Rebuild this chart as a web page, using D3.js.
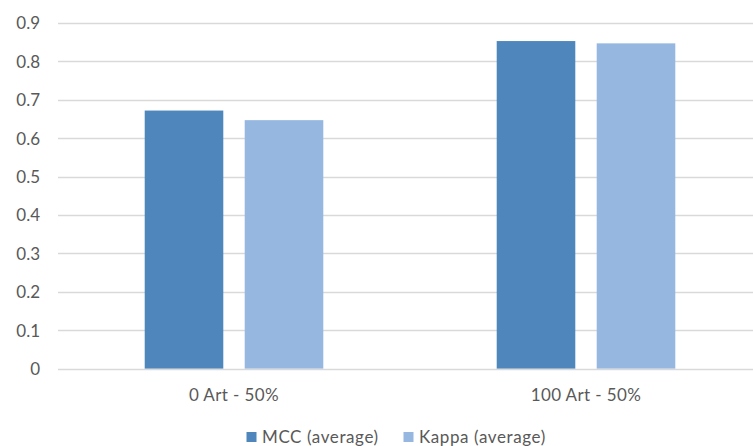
<!DOCTYPE html>
<html>
<head>
<meta charset="utf-8">
<script src="https://cdn.jsdelivr.net/npm/d3@7"></script>
<style>
  html, body { margin: 0; padding: 0; background: #fff; }
  svg { display: block; }
  text { font-family: Lato, "Open Sans", sans-serif; fill: #595959; }
</style>
</head>
<body>
<svg id="chart" width="753" height="446"></svg>
<script>
// Grouped bar chart: average MCC and Kappa per scenario
const categories = ["0 Art - 50%", "100 Art - 50%"];
const seriesNames = ["MCC (average)", "Kappa (average)"];
const mccValues = [0.672, 0.853];
const kappaValues = [0.647, 0.847];
const yTicks = [0, 0.1, 0.2, 0.3, 0.4, 0.5, 0.6, 0.7, 0.8, 0.9];
const seriesColors = ["#4f87bd", "#96b8e0"];

const seriesValues = [mccValues, kappaValues];
const rows = categories.map((c, i) => ({
  category: c,
  values: seriesNames.map((s, j) => ({ series: s, value: seriesValues[j][i], color: seriesColors[j] }))
}));

const svg = d3.select("#chart");
const plot = { left: 58, right: 762, top: 23, bottom: 368.6 };

const y = d3.scaleLinear().domain([0, 0.9]).range([plot.bottom, plot.top]);
const x0 = d3.scaleBand().domain(categories).range([plot.left, plot.right]).padding(0);
const x1 = d3.scaleBand().domain(seriesNames).range([0, x0.bandwidth()])
  .paddingInner(0.214).paddingOuter(0.867);

// horizontal gridlines
svg.append("g")
  .selectAll("line")
  .data(yTicks)
  .join("line")
  .attr("x1", plot.left).attr("x2", plot.right)
  .attr("y1", d => Math.round(y(d)) + 0.5).attr("y2", d => Math.round(y(d)) + 0.5)
  .attr("stroke", "#d9d9d9").attr("stroke-width", 1.3);

// y axis labels
const yAxis = d3.axisLeft(y).tickValues(yTicks).tickSize(0).tickPadding(0)
  .tickFormat(d => d === 0 ? "0" : d3.format(".1f")(d));
const yg = svg.append("g").attr("transform", "translate(40,0)").call(yAxis);
yg.select(".domain").remove();
yg.selectAll("text").attr("font-size", 17).attr("font-family", null).attr("fill", "#595959").attr("dy", "0.35em");

// bars
const groups = svg.append("g")
  .selectAll("g")
  .data(rows)
  .join("g")
  .attr("transform", d => `translate(${x0(d.category)},0)`);

groups.selectAll("rect")
  .data(d => d.values)
  .join("rect")
  .attr("x", d => x1(d.series))
  .attr("width", x1.bandwidth())
  .attr("y", d => y(d.value))
  .attr("height", d => y(0) - y(d.value))
  .attr("fill", d => d.color);

// x axis labels
const xAxis = d3.axisBottom(x0).tickSize(0).tickPadding(0);
const xg = svg.append("g").attr("transform", `translate(0,${plot.bottom})`).call(xAxis);
xg.select(".domain").remove();
xg.selectAll("text").attr("font-size", 17).attr("font-family", null).attr("fill", "#595959")
  .attr("letter-spacing", 0.4).attr("dy", null).attr("y", 32);

// legend
const legendX = [246.5, 403.5];
const legend = svg.append("g")
  .selectAll("g")
  .data(seriesNames)
  .join("g")
  .attr("transform", (d, i) => `translate(${legendX[i]},432)`);
legend.append("rect").attr("width", 10).attr("height", 10).attr("fill", (d, i) => seriesColors[i]);
legend.append("text").attr("x", 15.5).attr("y", 10.5).attr("font-size", 17)
  .attr("letter-spacing", 0.6).text(d => d);
</script>
</body>
</html>
